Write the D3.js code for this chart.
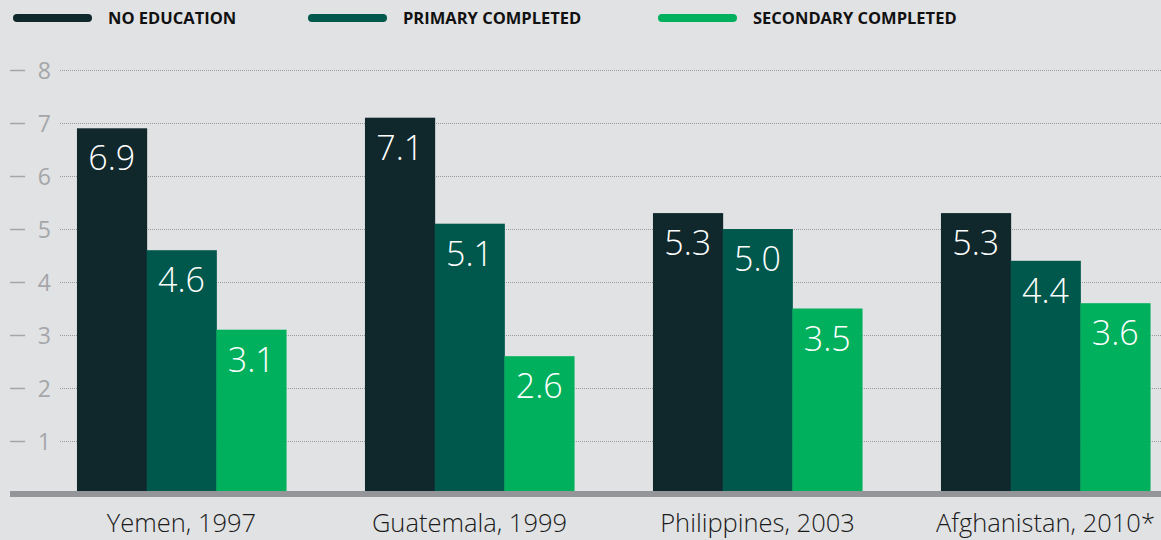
<html>
<head>
<meta charset="utf-8">
<title>Births per woman by education</title>
<style>
  body { margin: 0; background: #e1e2e4; }
  svg { display: block; }
</style>
</head>
<body>
<script src="https://cdn.jsdelivr.net/npm/d3@7"></script>
<script>
var countries = ["Yemen, 1997", "Guatemala, 1999", "Philippines, 2003", "Afghanistan, 2010*"];
var seriesNames = ["NO EDUCATION", "PRIMARY COMPLETED", "SECONDARY COMPLETED"];
var noEducation = [6.9, 7.1, 5.3, 5.3];
var primary = [4.6, 5.1, 5.0, 4.4];
var secondary = [3.1, 2.6, 3.5, 3.6];
var yTicks = [1, 2, 3, 4, 5, 6, 7, 8];
var colors = ["#10272b", "#00574b", "#00b05c"];

var width = 1161, height = 540;
var series = [noEducation, primary, secondary];

var svg = d3.select("body").append("svg")
  .attr("width", width)
  .attr("height", height);

var x0 = d3.scaleBand()
  .domain(countries)
  .range([37.5, 1189.5])
  .paddingInner(0.274)
  .paddingOuter(0.137);

var x1 = d3.scaleBand()
  .domain(seriesNames)
  .range([0, x0.bandwidth()]);

var y = d3.scaleLinear()
  .domain([0, 8])
  .range([494, 70]);

// grid lines
svg.append("g").selectAll("line")
  .data(yTicks)
  .enter().append("line")
  .attr("x1", 60).attr("x2", width)
  .attr("y1", function(d){ return y(d) + 0.5; })
  .attr("y2", function(d){ return y(d) + 0.5; })
  .attr("stroke", "#9a9b9e")
  .attr("stroke-width", 1)
  .attr("stroke-dasharray", "1,1");

// tick dashes and labels
var tk = svg.append("g").selectAll("g")
  .data(yTicks)
  .enter().append("g")
  .attr("transform", function(d){ return "translate(0," + y(d) + ")"; });
tk.append("line")
  .attr("x1", 10).attr("x2", 25)
  .attr("y1", 0.5).attr("y2", 0.5)
  .attr("stroke", "#a5a6a9").attr("stroke-width", 1.5);
tk.append("text")
  .attr("x", 51).attr("y", 8.5)
  .attr("text-anchor", "end")
  .attr("fill", "#a5a6a9")
  .style("font-family", "'Open Sans', sans-serif")
  .style("font-size", "23px")
  .text(function(d){ return d; });

// bars
var groups = svg.append("g").selectAll("g")
  .data(countries)
  .enter().append("g")
  .attr("transform", function(d){ return "translate(" + x0(d) + ",0)"; });

var cells = groups.selectAll("g")
  .data(function(d, i){
    return seriesNames.map(function(s, j){ return {s: s, j: j, v: series[j][i]}; });
  })
  .enter().append("g");

cells.append("rect")
  .attr("x", function(d){ return x1(d.s); })
  .attr("width", x1.bandwidth() + 0.5)
  .attr("y", function(d){ return y(d.v); })
  .attr("height", function(d){ return y(0) - y(d.v); })
  .attr("fill", function(d){ return colors[d.j]; });

cells.append("text")
  .attr("x", function(d){ return x1(d.s) + x1.bandwidth() / 2; })
  .attr("y", function(d){ return y(d.v) + 42; })
  .attr("text-anchor", "middle")
  .attr("fill", "#ffffff")
  .style("font-family", "'Open Sans', sans-serif")
  .style("font-weight", "300")
  .style("font-size", "34px")
  .text(function(d){ return d.v.toFixed(1); });

// baseline
svg.append("rect")
  .attr("x", 10).attr("y", y(0) - 3)
  .attr("width", width - 10).attr("height", 6)
  .attr("fill", "#939598");

// category labels
svg.append("g").selectAll("text")
  .data(countries)
  .enter().append("text")
  .attr("x", function(d){ return x0(d) + x0.bandwidth() / 2; })
  .attr("y", 532)
  .attr("text-anchor", "middle")
  .attr("fill", "#1a1a1a")
  .style("font-family", "'Open Sans', sans-serif")
  .style("font-weight", "300")
  .style("font-size", "25.5px")
  .text(function(d){ return d; });

// legend
var legendX = [13, 308, 658];
var lg = svg.append("g").selectAll("g")
  .data(seriesNames)
  .enter().append("g")
  .attr("transform", function(d, i){ return "translate(" + legendX[i] + ",18)"; });
lg.append("line")
  .attr("x1", 4).attr("x2", 75)
  .attr("stroke", function(d, i){ return colors[i]; })
  .attr("stroke-width", 8)
  .attr("stroke-linecap", "round");
lg.append("text")
  .attr("x", 95).attr("y", 6)
  .attr("fill", "#111")
  .style("font-family", "'Open Sans', sans-serif")
  .style("font-weight", "700")
  .style("font-size", "16.5px")
  .text(function(d){ return d; });
</script>
</body>
</html>
